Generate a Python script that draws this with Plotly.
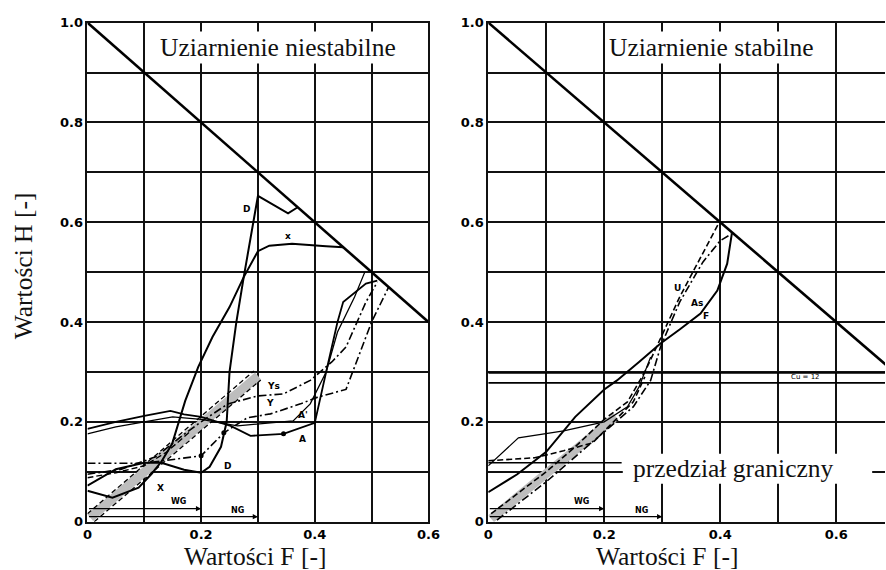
import plotly.graph_objects as go

# ---------------- LEFT PANEL (Uziarnienie niestabilne) ----------------
diagL_F = [0.0, 0.6]
diagL_H = [1.0, 0.4]

D_F = [0, 0.05, 0.1, 0.13, 0.17, 0.2, 0.215, 0.235, 0.245, 0.25, 0.262, 0.275, 0.3, 0.353, 0.37]
D_H = [0.072, 0.105, 0.118, 0.118, 0.104, 0.098, 0.11, 0.15, 0.2, 0.3, 0.4, 0.49, 0.653, 0.618, 0.63]

X_F = [0, 0.044, 0.09, 0.113, 0.13, 0.149, 0.172, 0.195, 0.22, 0.25, 0.275, 0.3, 0.32, 0.36, 0.42, 0.45]
X_H = [0.062, 0.048, 0.068, 0.096, 0.12, 0.156, 0.242, 0.31, 0.37, 0.43, 0.49, 0.542, 0.553, 0.557, 0.552, 0.55]

A_F = [0, 0.05, 0.1, 0.146, 0.17, 0.2, 0.252, 0.287, 0.345, 0.4, 0.42, 0.44, 0.45, 0.49, 0.51]
A_H = [0.186, 0.2, 0.212, 0.222, 0.215, 0.21, 0.192, 0.172, 0.176, 0.198, 0.3, 0.4, 0.44, 0.477, 0.483]

Ap_F = [0, 0.05, 0.1, 0.15, 0.2, 0.264, 0.322, 0.362, 0.392, 0.42, 0.44, 0.47, 0.488]
Ap_H = [0.176, 0.19, 0.2, 0.21, 0.205, 0.192, 0.198, 0.202, 0.236, 0.3, 0.38, 0.45, 0.5]

Ys_F = [0, 0.06, 0.12, 0.17, 0.2, 0.247, 0.3, 0.345, 0.392, 0.43, 0.455, 0.49, 0.51]
Ys_H = [0.095, 0.105, 0.13, 0.175, 0.2, 0.236, 0.252, 0.256, 0.283, 0.32, 0.35, 0.44, 0.48]

Y_F = [0, 0.1, 0.2, 0.24, 0.281, 0.322, 0.375, 0.404, 0.455, 0.5, 0.53]
Y_H = [0.117, 0.117, 0.132, 0.178, 0.208, 0.216, 0.236, 0.249, 0.265, 0.4, 0.47]

Ldash_F = [0, 0.05, 0.1, 0.14, 0.18]
Ldash_H = [0.088, 0.098, 0.112, 0.14, 0.18]

bandL_F = [0.005, 0.3]
bandL_H = [0.008, 0.292]
bandL_up_F = [0.0, 0.293]
bandL_up_H = [0.016, 0.302]
bandL_lo_F = [0.012, 0.305]
bandL_lo_H = [0.0, 0.284]

dotsL_F = [0.2, 0.24, 0.345]
dotsL_H = [0.132, 0.178, 0.176]

labelsL_text = ["D", "x", "D", "X", "Ys", "Y", "A'", "A"]
labelsL_F = [0.28, 0.353, 0.246, 0.128, 0.327, 0.322, 0.38, 0.378]
labelsL_H = [0.627, 0.573, 0.112, 0.068, 0.272, 0.238, 0.214, 0.166]

# ---------------- RIGHT PANEL (Uziarnienie stabilne) ----------------
diagR_F = [0.0, 0.7]
diagR_H = [1.0, 0.3]

U_F = [0.005, 0.05, 0.1, 0.15, 0.2, 0.24, 0.27, 0.293, 0.33, 0.397]
U_H = [0.016, 0.055, 0.1, 0.15, 0.205, 0.24, 0.3, 0.357, 0.45, 0.597]

As_F = [0.015, 0.1, 0.2, 0.25, 0.28, 0.297, 0.33, 0.37, 0.4, 0.42]
As_H = [0.003, 0.08, 0.18, 0.23, 0.283, 0.35, 0.44, 0.52, 0.563, 0.577]

Fc_F = [0, 0.05, 0.1, 0.15, 0.2, 0.222, 0.26, 0.297, 0.33, 0.366, 0.395, 0.412, 0.42]
Fc_H = [0.059, 0.095, 0.14, 0.21, 0.265, 0.283, 0.32, 0.357, 0.385, 0.417, 0.463, 0.517, 0.577]

thin_F = [0, 0.052, 0.13, 0.2, 0.24, 0.26, 0.28]
thin_H = [0.112, 0.168, 0.182, 0.2, 0.23, 0.27, 0.33]

Rdash_F = [0, 0.08, 0.13, 0.18, 0.216, 0.25, 0.27]
Rdash_H = [0.122, 0.128, 0.142, 0.158, 0.2, 0.24, 0.29]

bandR_F = [0.005, 0.22]
bandR_H = [0.006, 0.21]

cu_lines_H = [0.298, 0.278]
border_line_H = 0.118
border_line_F = [0.0, 0.23]

labelsR_text = ["U", "As", "F"]
labelsR_F = [0.326, 0.36, 0.376]
labelsR_H = [0.469, 0.439, 0.413]

# WG / NG arrows (F from, F to, H)
arrows_F0 = [0.0, 0.0]
arrows_F1 = [0.2, 0.3]
arrows_H = [0.026, 0.01]
arrow_labels = ["WG", "NG"]
arrow_label_F = [0.16, 0.264]
arrow_label_H = [0.04, 0.022]

ticks_major = [0, 0.1, 0.2, 0.3, 0.4, 0.5, 0.6, 0.7, 0.8, 0.9, 1.0]
ticks_text_y = ["0", "", "0.2", "", "0.4", "", "0.6", "", "0.8", "", "1.0"]
ticks_x = [0, 0.1, 0.2, 0.3, 0.4, 0.5, 0.6]
ticks_text_x = ["0", "", "0.2", "", "0.4", "", "0.6"]

# page geometry: the photographed page maps figure px -> screen px as
# screen_x = BX + SX*x, screen_y = BY + SY*y ; layout is given in screen px
SX, BX = 0.984, 3.3
SY, BY = 0.974, 6.4
FW, FH = 897, 579


def PX(px):
    return ((px - BX) / SX) / FW


def PY(py):
    return 1 - ((py - BY) / SY) / FH


fig = go.Figure()


def line(F, H, xa, ya, dash="solid", width=1.8, color="black"):
    fig.add_trace(go.Scatter(x=F, y=H, xaxis=xa, yaxis=ya, mode="lines",
                             line=dict(color=color, width=width, dash=dash),
                             hoverinfo="skip", showlegend=False))


DASH = "6px,3px"
DASHDOT = "8px,3px,2px,3px"

# left panel
line(bandL_F, bandL_H, "x", "y", width=9, color="#bdbdbd")
line(bandL_up_F, bandL_up_H, "x", "y", dash="5px,3px", width=1.3)
line(bandL_lo_F, bandL_lo_H, "x", "y", dash="5px,3px", width=1.3)
line(diagL_F, diagL_H, "x", "y", width=2.6)
line(D_F, D_H, "x", "y", width=2.0)
line(X_F, X_H, "x", "y", width=2.0)
line(A_F, A_H, "x", "y", width=1.8)
line(Ap_F, Ap_H, "x", "y", width=1.3)
line(Ys_F, Ys_H, "x", "y", dash=DASHDOT, width=1.6)
line(Y_F, Y_H, "x", "y", dash=DASHDOT, width=1.6)
line(Ldash_F, Ldash_H, "x", "y", dash=DASH, width=1.4)
fig.add_trace(go.Scatter(x=dotsL_F, y=dotsL_H, xaxis="x", yaxis="y", mode="markers",
                         marker=dict(color="black", size=5), hoverinfo="skip", showlegend=False))

# right panel
line(bandR_F, bandR_H, "x2", "y2", width=9, color="#bdbdbd")
for h in cu_lines_H:
    line([0, 0.7], [h, h], "x2", "y2", width=1.6)
line(border_line_F, [border_line_H, border_line_H], "x2", "y2", width=1.4)
line(diagR_F, diagR_H, "x2", "y2", width=2.6)
line(U_F, U_H, "x2", "y2", dash=DASH, width=1.6)
line(As_F, As_H, "x2", "y2", dash=DASHDOT, width=1.6)
line(Fc_F, Fc_H, "x2", "y2", width=2.0)
line(thin_F, thin_H, "x2", "y2", width=1.2)
line(Rdash_F, Rdash_H, "x2", "y2", dash=DASH, width=1.6)

ann = []
lab_font = dict(family="DejaVu Sans", size=9, color="black", weight="bold")
for t, f, h in zip(labelsL_text, labelsL_F, labelsL_H):
    ann.append(dict(x=f, y=h, xref="x", yref="y", text=t, showarrow=False, font=lab_font,
                    xanchor="center", yanchor="middle"))
for t, f, h in zip(labelsR_text, labelsR_F, labelsR_H):
    ann.append(dict(x=f, y=h, xref="x2", yref="y2", text=t, showarrow=False, font=lab_font,
                    xanchor="center", yanchor="middle"))

for xs, ys in (("x", "y"), ("x2", "y2")):
    for f0, f1, h, t, lf, lh in zip(arrows_F0, arrows_F1, arrows_H, arrow_labels, arrow_label_F, arrow_label_H):
        ann.append(dict(x=f1, y=h, ax=f0, ay=h, xref=xs, yref=ys, axref=xs, ayref=ys, text="",
                        showarrow=True, arrowhead=2, arrowsize=0.8, arrowwidth=1.3, arrowcolor="black"))
        ann.append(dict(x=lf, y=lh, xref=xs, yref=ys, text=t, showarrow=False,
                        xanchor="center", yanchor="middle",
                        font=dict(family="DejaVu Sans", size=8, color="black", weight="bold")))

ann.append(dict(x=0.547, y=0.289, xref="x2", yref="y2", text="Cu = 12", showarrow=False,
                xanchor="center", yanchor="middle",
                font=dict(family="DejaVu Sans", size=7, color="black")))

serif = "Liberation Serif"


def paper_text(px, py, text, size, angle=0, bg=None):
    d = dict(x=PX(px), y=PY(py), xref="paper", yref="paper", text=text,
             showarrow=False, xanchor="center", yanchor="middle", textangle=angle,
             font=dict(family=serif, size=size, color="#111"))
    if bg:
        d["bgcolor"] = bg
    ann.append(d)


paper_text(277, 47, "Uziarnienie niestabilne", 25.5, bg="white")
paper_text(712, 47, "Uziarnienie stabilne", 25.5, bg="white")
paper_text(734, 468, "przedział graniczny", 25.5)
paper_text(254, 556, "Wartości F [-]", 25.5)
paper_text(667, 556, "Wartości F [-]", 25.5)
paper_text(22, 265, "Wartości H [-]", 25.5, angle=-90)

shapes = [dict(type="rect", xref="x2", yref="y2", x0=0.232, x1=0.662, y0=0.076, y1=0.136,
               fillcolor="white", line=dict(width=0), layer="above")]

tickfont = dict(family="DejaVu Sans", size=13, color="black", weight="bold")
axis_common = dict(showgrid=True, gridcolor="#111", gridwidth=1.6, zeroline=False,
                   showline=True, linecolor="#111", linewidth=1.8, ticks="",
                   tickfont=tickfont)

right_range = (FW - (488 - BX) / SX) / (581.7 / SX)

fig.update_layout(
    width=FW, height=FH, margin=dict(l=0, r=0, t=0, b=0),
    paper_bgcolor="white", plot_bgcolor="white",
    xaxis=dict(domain=[PX(86), PX(428)], range=[0, 0.6], tickvals=ticks_x, ticktext=ticks_text_x,
               mirror=True, anchor="y", **axis_common),
    yaxis=dict(domain=[PY(521), PY(22)], range=[0, 1.0], tickvals=ticks_major, ticktext=ticks_text_y,
               mirror=True, anchor="x", **axis_common),
    xaxis2=dict(domain=[PX(488), 1.0], range=[0, right_range], tickvals=ticks_x,
                ticktext=ticks_text_x, mirror=True, anchor="y2", **axis_common),
    yaxis2=dict(domain=[PY(521), PY(22)], range=[0, 1.0], tickvals=ticks_major, ticktext=ticks_text_y,
                mirror=False, anchor="x2", **axis_common),
    annotations=ann, shapes=shapes,
)

fig.write_html("out.html")
